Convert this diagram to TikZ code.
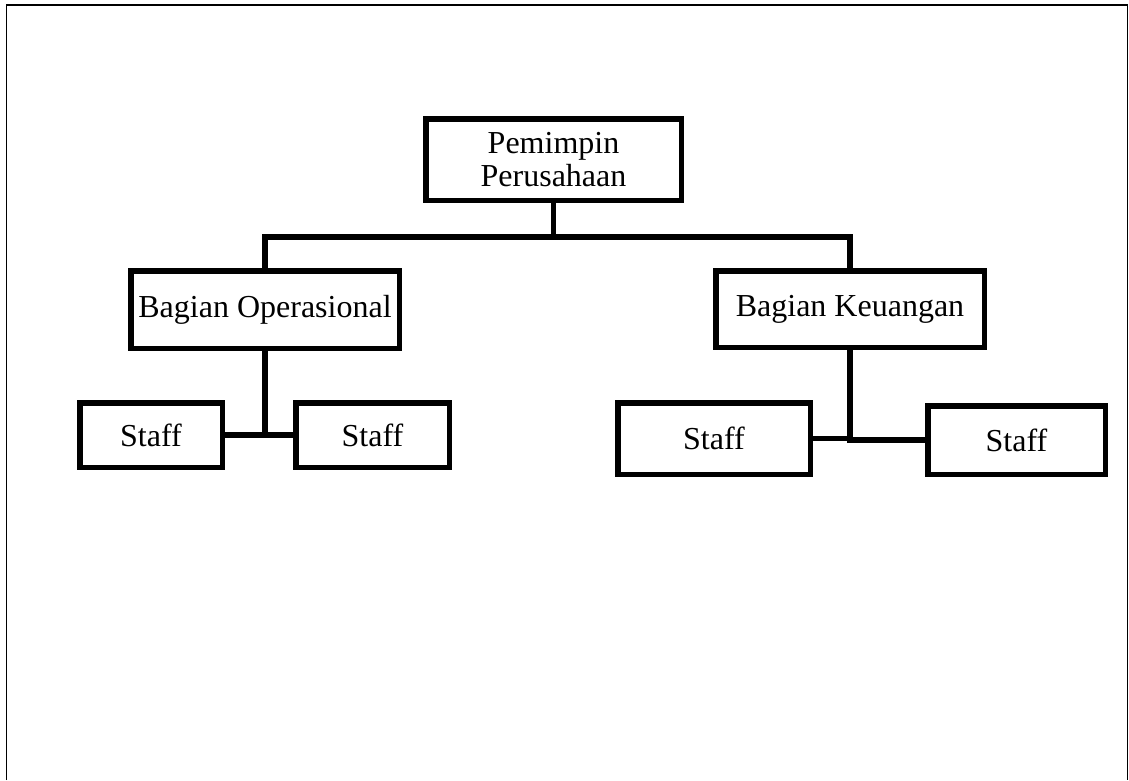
\documentclass[tikz,border=0pt]{standalone}
\usepackage{fontspec}
\setmainfont{Liberation Serif}

\begin{document}
\begin{tikzpicture}[x=1pt,y=-1pt,
  box/.style={draw,line width=5.5pt,inner sep=0pt,align=center,
    font=\fontsize{32}{33}\selectfont},
  link/.style={line width=5.5pt}]
\useasboundingbox (0,0) rectangle (1129,780);
\draw[line width=1.5pt] (6.5,780) -- (6.5,5) -- (1127.5,5) -- (1127.5,780);
\node[box,minimum width=255.5,minimum height=81.5] (pimpinan) at (553.5,159.5) {Pemimpin\\Perusahaan};
\node[box,minimum width=268.5,minimum height=77.5] (operasional) at (265,309.5) {Bagian Operasional};
\node[box,minimum width=268.5,minimum height=76.5] (keuangan) at (850,309) {Bagian Keuangan};
\node[box,minimum width=142.5,minimum height=64.5] (staffa) at (151,435) {Staff};
\node[box,minimum width=153.5,minimum height=64.5] (staffb) at (372.5,435) {Staff};
\node[box,minimum width=192.5,minimum height=71.5] (staffc) at (714,438.5) {Staff};
\node[box,minimum width=177.5,minimum height=68.5] (staffd) at (1016.5,440) {Staff};
\coordinate (bar) at (553.5,237);
\draw[link] (pimpinan.south) -- (bar);
\draw[link] (operasional.north) |- (bar) -| (keuangan.north);
\draw[link] (operasional.south) |- (staffa.east);
\draw[link] (operasional.south) |- (staffb.west);
\draw[link] (keuangan.south) |- (staffc.east);
\draw[link] (keuangan.south) |- (staffd.west);
\end{tikzpicture}
\end{document}
